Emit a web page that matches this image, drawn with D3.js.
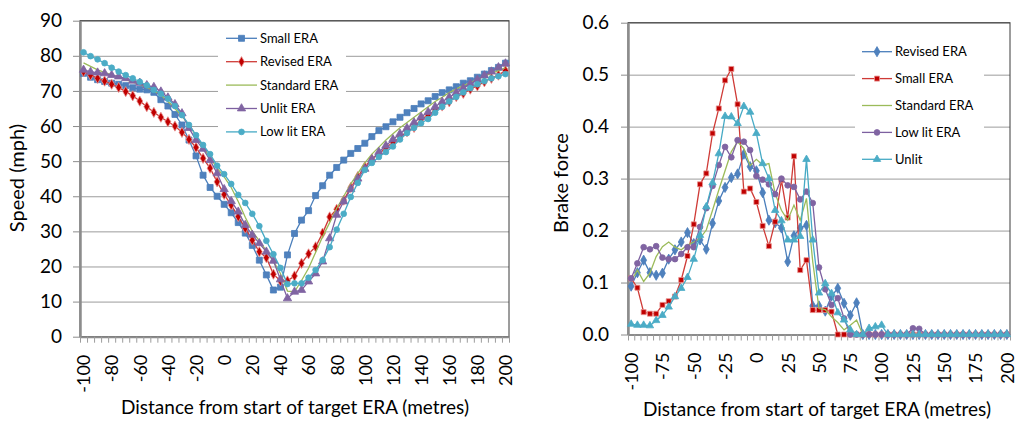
<!DOCTYPE html>
<html>
<head>
<meta charset="utf-8">
<script src="https://cdn.jsdelivr.net/npm/d3@7"></script>
<style>
  body { margin: 0; background: #fff; }
  text { font-family: Lato, "Open Sans", sans-serif; fill: #000; }
</style>
</head>
<body>
<svg width="1018" height="421"></svg>
<script>
// distance from start of target ERA (metres), one category every 5 m
const distance = [
  -100, -95, -90, -85, -80, -75, -70, -65, -60, -55,
  -50, -45, -40, -35, -30, -25, -20, -15, -10, -5,
  0, 5, 10, 15, 20, 25, 30, 35, 40, 45,
  50, 55, 60, 65, 70, 75, 80, 85, 90, 95,
  100, 105, 110, 115, 120, 125, 130, 135, 140, 145,
  150, 155, 160, 165, 170, 175, 180, 185, 190, 195,
  200
];

// left chart: speed (mph)
const speedTicks = [0, 10, 20, 30, 40, 50, 60, 70, 80, 90];
const speedLabels = [-100, -80, -60, -40, -20, 0, 20, 40, 60, 80, 100, 120, 140, 160, 180, 200];

const smallEra = [
  75, 73.9, 73.2, 72.7, 72.2, 71.9, 71.5, 70.9, 70.5, 70.3,
  69.6, 67.5, 65.7, 63.3, 60.3, 56, 51.5, 46, 42.5, 40,
  37.7, 35.3, 32.5, 29.5, 26, 21.8, 17.6, 13.3, 14.1, 23.3,
  29.4, 33.2, 35.9, 40.2, 43, 46, 48.2, 50.3, 52.2, 53.6,
  55.1, 57, 58.7, 59.8, 61.2, 62.5, 63.8, 65, 66.3, 67.2,
  68.4, 69.5, 70.3, 71.2, 72.2, 72.9, 73.9, 74.8, 75.8, 76.7,
  77.9
];
const revisedEra = [
  75.5, 74.5, 73.6, 72.8, 71.9, 71, 69.8, 68.6, 67.1, 65.5,
  63.9, 62.5, 61.2, 60, 58.2, 56.2, 53.9, 50.8, 48, 44.1,
  40.5, 37.5, 34.2, 30.9, 27.5, 24.2, 22.5, 17.8, 15.9, 15.9,
  17.3, 20.9, 23.6, 25.6, 29.5, 34.1, 36.3, 38.9, 42.5, 45.6,
  48.4, 50.6, 52, 53.9, 55.3, 56.8, 58.4, 59.6, 61.9, 63.1,
  64.6, 65.7, 66.9, 68.4, 69.3, 70.5, 71.4, 72.6, 73.6, 74.5,
  75.8
];
const standardEra = [
  78, 77, 76, 75.3, 74.6, 73.9, 73.2, 72.5, 71.8, 71,
  70, 68.8, 67, 65, 62.8, 60.3, 57.3, 54, 51, 48,
  45.5, 42.5, 38.5, 34, 30, 27.3, 24.5, 21.5, 18, 13,
  12.8, 16, 19.5, 24, 28.5, 32.5, 36.6, 40, 43.5, 46.5,
  49.5, 52, 54, 56, 57.8, 59.5, 61, 62.5, 64, 65.5,
  67, 68.2, 69.5, 70.6, 71.5, 72.4, 73.3, 74.2, 75, 75.8,
  76.6
];
const unlitEra = [
  76, 75.4, 75.2, 75, 74.5, 74.1, 73.6, 72.9, 72.3, 71.6,
  71.1, 69.8, 68.1, 66.2, 63.6, 59.4, 56, 53.5, 50.3, 46.5,
  42, 38.6, 35.6, 31.8, 29, 26.6, 24.2, 21.6, 16.3, 10.9,
  12.8, 13.3, 15.7, 18, 21.4, 28, 34.7, 38.5, 42, 45,
  47.8, 50.5, 52.6, 54.4, 56.2, 57.8, 59.4, 61, 62.6, 64,
  65.5, 66.9, 68.2, 69.5, 70.8, 72, 73.2, 74.4, 75.5, 76.7,
  77.8
];
const lowLitEra = [
  81, 79.9, 79, 77.9, 76.6, 75.5, 74.5, 73.6, 72.6, 71.6,
  70.3, 69.2, 67.8, 65.7, 63.1, 60.3, 57.4, 54.6, 52, 48.7,
  46.3, 43.5, 40.4, 38.1, 35, 31.5, 27.3, 23.5, 19.6, 15,
  15.2, 15.2, 16.8, 19, 21.8, 25.5, 30.5, 35, 39.8, 43.8,
  47.5, 49.5, 51.2, 52.6, 54.2, 56.2, 58, 59.5, 60.8, 62,
  63.8, 65.5, 67, 68.3, 69.6, 70.8, 71.9, 72.8, 73.6, 74.2,
  74.8
];

// right chart: brake force
const brakeTicks = [0, 0.1, 0.2, 0.3, 0.4, 0.5, 0.6];
const brakeLabels = [-100, -75, -50, -25, 0, 25, 50, 75, 100, 125, 150, 175, 200];

const revisedBrake = [
  0.093, 0.119, 0.143, 0.119, 0.114, 0.118, 0.145, 0.163, 0.178, 0.196,
  0.175, 0.182, 0.164, 0.214, 0.257, 0.283, 0.302, 0.309, 0.347, 0.323,
  0.315, 0.273, 0.22, 0.215, 0.205, 0.14, 0.19, 0.205, 0.21, 0.055,
  0.055, 0.045, 0.074, 0.089, 0.06, 0.037, 0.061, 0, 0, 0,
  0, 0, 0, 0, 0, 0, 0, 0, 0, 0,
  0, 0, 0, 0, 0, 0, 0, 0, 0, 0,
  0
];
const smallBrake = [
  0.108, 0.09, 0.043, 0.04, 0.04, 0.057, 0.064, 0.073, 0.105, 0.151,
  0.212, 0.289, 0.31, 0.387, 0.435, 0.489, 0.511, 0.443, 0.275, 0.281,
  0.255, 0.209, 0.17, 0.217, 0.297, 0.225, 0.343, 0.124, 0.143, 0.047,
  0.047, 0.047, 0.044, 0, 0, 0, 0, 0, 0, 0,
  0, 0, 0, 0, 0, 0, 0, 0, 0, 0,
  0, 0, 0, 0, 0, 0, 0, 0, 0, 0,
  0
];
const standardBrake = [
  0.102, 0.124, 0.102, 0.118, 0.15, 0.169, 0.178, 0.168, 0.163, 0.172,
  0.178, 0.185, 0.201, 0.239, 0.278, 0.315, 0.352, 0.371, 0.358, 0.325,
  0.337, 0.326, 0.329, 0.271, 0.239, 0.22, 0.249, 0.22, 0.262, 0.14,
  0.05, 0.048, 0.034, 0.023, 0.009, 0.018, 0.028, 0, 0, 0,
  0, 0, 0, 0, 0, 0, 0, 0, 0, 0,
  0, 0, 0, 0, 0, 0, 0, 0, 0, 0,
  0
];
const lowLitBrake = [
  0.108, 0.137, 0.168, 0.164, 0.17, 0.148, 0.145, 0.145, 0.155, 0.168,
  0.168, 0.207, 0.243, 0.286, 0.326, 0.361, 0.341, 0.374, 0.371, 0.355,
  0.305, 0.298, 0.289, 0.27, 0.3, 0.287, 0.284, 0.26, 0.275, 0.253,
  0.129, 0.087, 0.057, 0.07, 0.031, 0, 0, 0, 0, 0,
  0, 0, 0, 0, 0, 0.012, 0.011, 0, 0, 0,
  0, 0, 0, 0, 0, 0, 0, 0, 0, 0,
  0
];
const unlitBrake = [
  0.02, 0.018, 0.018, 0.017, 0.027, 0.037, 0.053, 0.073, 0.089, 0.11,
  0.145, 0.191, 0.246, 0.292, 0.348, 0.42, 0.419, 0.406, 0.439, 0.428,
  0.387, 0.329, 0.3, 0.239, 0.219, 0.182, 0.182, 0.189, 0.337, 0.182,
  0.08, 0.098, 0.079, 0.042, 0.028, 0.009, 0, 0, 0.012, 0.015,
  0.018, 0, 0, 0, 0, 0, 0, 0, 0, 0,
  0, 0, 0, 0, 0, 0, 0, 0, 0, 0,
  0
];

const svg = d3.select("svg");

const blue = { line: "#4A7EBB", fill: "#4F81BD", stroke: "#4A7EBB" };
const red = { line: "#CF3B37", fill: "#C00000", stroke: "#E8908E" };
const green = { line: "#9BBB59" };
const purple = { line: "#7D60A0", fill: "#8064A2", stroke: "#8064A2" };
const cyan = { line: "#46AAC5", fill: "#4BACC6", stroke: "#4BACC6" };

function drawPanel(p) {
  const x = d3.scaleLinear().domain([-102.5, 202.5]).range([p.x0, p.x1]);
  const y = d3.scaleLinear().domain([0, p.yMax]).range([p.yBottom, p.yTop]);
  const g = svg.append("g");
  const w = p.x1 - p.x0;

  // gridlines
  g.append("g")
    .attr("transform", `translate(${p.x0},0)`)
    .call(d3.axisLeft(y).tickValues(p.yTicks).tickSize(-w).tickFormat(""))
    .call(a => a.select(".domain").remove())
    .selectAll("line").attr("stroke", "#9c9c9c");

  // plot border
  g.append("rect")
    .attr("x", p.x0).attr("y", p.yTop)
    .attr("width", w).attr("height", p.yBottom - p.yTop)
    .attr("fill", "none").attr("stroke", "#3a3a3a").attr("stroke-width", 1);

  // y axis
  const ya = g.append("g")
    .attr("transform", `translate(${p.x0},0)`)
    .call(d3.axisLeft(y).tickValues(p.yTicks).tickSize(7).tickSizeOuter(0)
      .tickPadding(p.yPad).tickFormat(p.yFormat));
  ya.select(".domain").attr("stroke", "#8c8c8c").attr("stroke-width", 2.5);
  ya.selectAll("line").attr("stroke", "#8c8c8c");
  ya.selectAll("text").attr("font-size", 19);

  // x axis: minor ticks between categories
  const bounds = distance.map(d => d - 2.5).concat([distance[distance.length - 1] + 2.5]);
  const xa = g.append("g")
    .attr("transform", `translate(0,${p.yBottom})`)
    .call(d3.axisBottom(x).tickValues(bounds).tickSize(6).tickSizeOuter(0).tickFormat(""));
  xa.select(".domain").attr("stroke", "#8c8c8c").attr("stroke-width", 2);
  xa.selectAll("line").attr("stroke", "#9c9c9c");

  // x labels, rotated
  const xl = g.append("g")
    .attr("transform", `translate(0,${p.yBottom})`)
    .call(d3.axisBottom(x).tickValues(p.xLabels).tickSize(0).tickFormat(d => d));
  xl.select(".domain").remove();
  xl.selectAll("text")
    .attr("font-size", 18)
    .attr("transform", "rotate(-90)")
    .attr("text-anchor", "end")
    .attr("x", -18).attr("y", 0).attr("dy", "0.35em");

  // axis titles
  g.append("text")
    .attr("transform", `translate(${p.yTitleX},${p.yTitleY}) rotate(-90)`)
    .attr("text-anchor", "middle").attr("font-size", 20)
    .text(p.yTitle);
  g.append("text")
    .attr("x", p.xTitleX).attr("y", p.xTitleY)
    .attr("text-anchor", "middle").attr("font-size", 19)
    .text("Distance from start of target ERA (metres)");

  // series
  const line = d3.line().x((d, i) => x(distance[i])).y(d => y(d));
  p.series.forEach(s => {
    g.append("path")
      .datum(s.values)
      .attr("fill", "none")
      .attr("stroke", s.style.line)
      .attr("stroke-width", 1.3)
      .attr("d", line);
    if (s.symbol) {
      g.append("g").selectAll("path")
        .data(s.values)
        .join("path")
        .attr("transform", (d, i) => `translate(${x(distance[i])},${y(d)})`)
        .attr("d", d3.symbol(s.symbol, s.size))
        .attr("fill", s.style.fill)
        .attr("stroke", s.style.stroke)
        .attr("stroke-width", 0.8);
    }
  });

  // legend
  const lg = g.append("g");
  lg.append("rect")
    .attr("x", p.legend.x0).attr("y", p.legend.y0)
    .attr("width", p.legend.x1 - p.legend.x0).attr("height", p.legend.y1 - p.legend.y0)
    .attr("fill", "#fff");
  p.legendOrder.forEach((s, i) => {
    const ly = p.legend.first + i * p.legend.step;
    lg.append("line")
      .attr("x1", p.legend.lx0).attr("x2", p.legend.lx1)
      .attr("y1", ly).attr("y2", ly)
      .attr("stroke", s.style.line).attr("stroke-width", 1.3);
    if (s.symbol) {
      lg.append("path")
        .attr("transform", `translate(${(p.legend.lx0 + p.legend.lx1) / 2},${ly})`)
        .attr("d", d3.symbol(s.symbol, s.size))
        .attr("fill", s.style.fill)
        .attr("stroke", s.style.stroke)
        .attr("stroke-width", 0.8);
    }
    lg.append("text")
      .attr("x", p.legend.tx).attr("y", ly).attr("dy", "0.35em")
      .attr("font-size", 13)
      .text(s.name);
  });
}

// left chart
const leftSeries = [
  { name: "Small ERA", values: smallEra, style: blue, symbol: d3.symbolSquare, size: 36 },
  { name: "Revised ERA", values: revisedEra, style: red, symbol: d3.symbolDiamond, size: 30 },
  { name: "Standard ERA", values: standardEra, style: green },
  { name: "Unlit ERA", values: unlitEra, style: purple, symbol: d3.symbolTriangle, size: 30 },
  { name: "Low lit ERA", values: lowLitEra, style: cyan, symbol: d3.symbolCircle, size: 26 }
];
drawPanel({
  x0: 80, x1: 509, yTop: 20.7, yBottom: 336.7,
  yMax: 90, yTicks: speedTicks, yFormat: d3.format("d"), yPad: 11,
  xLabels: speedLabels,
  yTitle: "Speed (mph)", yTitleX: 24, yTitleY: 178,
  xTitleX: 295, xTitleY: 414,
  series: leftSeries,
  legendOrder: leftSeries,
  legend: { x0: 218, x1: 346, y0: 28, y1: 145, first: 38.3, step: 23.4, lx0: 226, lx1: 257, tx: 260 }
});

// right chart
const rightSeries = [
  { name: "Revised ERA", values: revisedBrake, style: blue, symbol: d3.symbolDiamond, size: 30 },
  { name: "Small ERA", values: smallBrake, style: red, symbol: d3.symbolSquare, size: 25 },
  { name: "Standard ERA", values: standardBrake, style: green },
  { name: "Low lit ERA", values: lowLitBrake, style: purple, symbol: d3.symbolCircle, size: 26 },
  { name: "Unlit", values: unlitBrake, style: cyan, symbol: d3.symbolTriangle, size: 24 }
];
drawPanel({
  x0: 628, x1: 1010, yTop: 22.7, yBottom: 334.5,
  yMax: 0.6, yTicks: brakeTicks, yFormat: d3.format(".1f"), yPad: 12,
  xLabels: brakeLabels,
  yTitle: "Brake force", yTitleX: 568, yTitleY: 183,
  xTitleX: 817, xTitleY: 416,
  series: rightSeries,
  legendOrder: rightSeries,
  legend: { x0: 855, x1: 984, y0: 38, y1: 170, first: 51.7, step: 26.9, lx0: 862, lx1: 892, tx: 895 }
});
</script>
</body>
</html>
